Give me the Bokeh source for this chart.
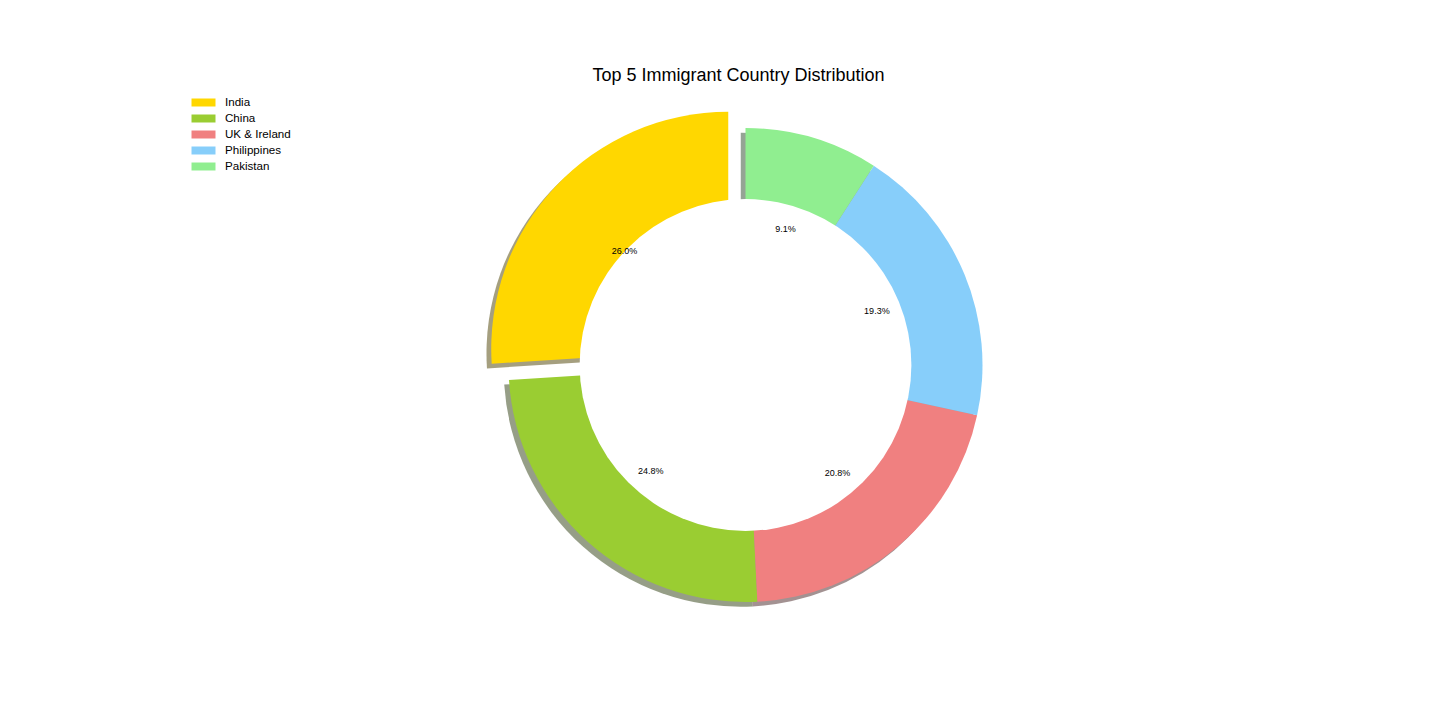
import numpy as np
from bokeh.plotting import figure
from bokeh.models import ColumnDataSource, Range1d, Label, Legend, LegendItem
from bokeh.embed import file_html
from bokeh.resources import INLINE
from bokeh.core.properties import value

# ---- data ----
countries = ["India", "China", "UK & Ireland", "Philippines", "Pakistan"]
shares = [26.0, 24.8, 20.8, 19.3, 9.1]
colors = ["#FFD700", "#9ACD32", "#F08080", "#87CEFA", "#90EE90"]
explode = [0.1, 0.0, 0.0, 0.0, 0.0]
title_text = "Top 5 Immigrant Country Distribution"

# ---- layout constants ----
W, H = 1440, 720
PX = 237.0            # pixels per unit radius
CX, CY = 745.0, 364.5  # pie centre in pixels (from top-left)
HOLE = 0.7
SHADOW = 0.02
PCT_DIST = 0.6

frac = np.array(shares) / np.sum(shares)
ends = np.pi / 2 + 2 * np.pi * np.cumsum(frac)
starts = ends - 2 * np.pi * frac
mids = (starts + ends) / 2
ex = np.array(explode)
cx = ex * np.cos(mids)
cy = ex * np.sin(mids)


def shadow_hex(h):
    r, g, b = int(h[1:3], 16), int(h[3:5], 16), int(h[5:7], 16)
    return "#%02x%02x%02x" % (int(r * 0.3), int(g * 0.3), int(b * 0.3))


src = ColumnDataSource(dict(
    country=countries,
    x=cx, y=cy,
    sx=cx - SHADOW, sy=cy - SHADOW,
    start=starts, end=ends,
    color=colors,
    scolor=[shadow_hex(c) for c in colors],
    lx=cx + PCT_DIST * np.cos(mids),
    ly=cy + PCT_DIST * np.sin(mids),
    label=["%.1f%%" % v for v in shares],
))

p = figure(width=W, height=H, output_backend="svg", toolbar_location=None,
           x_range=Range1d(-CX / PX, (W - CX) / PX),
           y_range=Range1d(-(H - CY) / PX, CY / PX),
           x_axis_type=None, y_axis_type=None, min_border=0,
           background_fill_color="white", border_fill_color="white")
p.outline_line_color = None
p.grid.visible = False

# shadows
p.wedge(x="sx", y="sy", radius=1.0, start_angle="start", end_angle="end",
        fill_color="scolor", fill_alpha=0.5, line_color=None, source=src)
# wedges
wr = p.wedge(x="x", y="y", radius=1.0, start_angle="start", end_angle="end",
             fill_color="color", line_color=None, source=src)
# centre hole
p.circle(x=[0.0], y=[0.0], radius=HOLE, fill_color="white", line_color=None)
# percent labels
p.text(x="lx", y="ly", text="label", source=src, text_align="center",
       text_baseline="middle", text_font=value("Liberation Sans"),
       text_font_size="9px", text_color="#000000")

p.add_layout(Label(x=(738 - CX) / PX, y=(CY - 74) / PX, text=title_text,
                   text_align="center", text_baseline="middle",
                   text_font="Liberation Sans", text_font_size="18px",
                   text_color="#000000"))

legend = Legend(items=[LegendItem(label=c, renderers=[wr], index=i)
                       for i, c in enumerate(countries)],
                location=(188, 548), padding=0, margin=0, spacing=3,
                glyph_width=30, glyph_height=10, label_height=10,
                label_standoff=7, label_text_font="Liberation Sans",
                label_text_font_size="11.6px", label_text_color="#000000",
                border_line_color=None, background_fill_alpha=0)
p.add_layout(legend)

open("out.html", "w").write(file_html(p, INLINE))
